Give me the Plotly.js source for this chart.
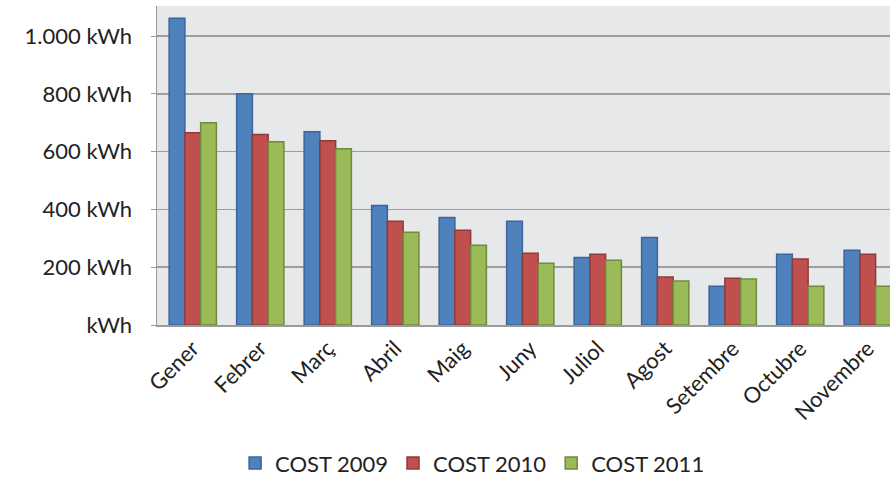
<!DOCTYPE html>
<html>
<head>
<meta charset="utf-8">
<script src="https://cdn.plot.ly/plotly-3.0.1.min.js"></script>
<style>html,body{margin:0;padding:0;background:#fff;}#chart{width:890px;height:480px;}</style>
</head>
<body>
<div id="chart"></div>
<script>
const months = ["Gener","Febrer","Març","Abril","Maig","Juny","Juliol","Agost","Setembre","Octubre","Novembre"];
const cost2009 = [1062, 800, 669, 414, 372, 359, 234, 303, 134, 245, 259];
const cost2010 = [665, 659, 638, 359, 328, 248, 245, 166, 162, 228, 245];
const cost2011 = [700, 634, 610, 321, 276, 214, 224, 152, 159, 134, 134];
const yTickVals = [0, 200, 400, 600, 800, 1000];
const yTickText = ["kWh", "200 kWh", "400 kWh", "600 kWh", "800 kWh", "1.000 kWh"];

const font = "Lato, 'Open Sans', sans-serif";
function bar(name, y, fill, line) {
  return {type: "bar", name: name, x: months, y: y,
    marker: {color: fill, line: {color: line, width: 1.5}}};
}
const data = [
  bar("COST 2009", cost2009, "#4F81BD", "#3A659A"),
  bar("COST 2010", cost2010, "#C0504D", "#8E3B39"),
  bar("COST 2011", cost2011, "#9BBB59", "#708A3F")
];
const layout = {
  width: 890, height: 480,
  margin: {l: 157, r: 0, t: 6, b: 155},
  paper_bgcolor: "#ffffff",
  plot_bgcolor: "#E7E8EA",
  font: {family: font, size: 22, color: "#222"},
  barmode: "group",
  bargap: 0.3,
  bargroupgap: 0,
  showlegend: true,
  legend: {orientation: "h", xref: "container", yref: "container",
    x: 0.531, xanchor: "center", y: 0.035, yanchor: "middle",
    font: {family: font, size: 22, color: "#222"}, itemwidth: 30, traceorder: "normal"},
  xaxis: {
    type: "category", range: [-0.53, 10.33], automargin: false,
    tickangle: -45, showgrid: false, ticks: "",
    showline: true, linecolor: "#9A9A9A", linewidth: 2,
    tickfont: {family: font, size: 22, color: "#222"}
  },
  yaxis: {
    range: [0, 1104], tickvals: yTickVals, ticktext: yTickText, automargin: false,
    showgrid: true, gridcolor: "#9E9E9E", gridwidth: 1.5,
    showline: true, linecolor: "#9A9A9A", linewidth: 1.5,
    ticks: "outside", ticklen: 5, tickcolor: "#9A9A9A",
    ticklabelstandoff: 14, zeroline: false,
    tickfont: {family: font, size: 22, color: "#222"}
  }
};
Plotly.newPlot("chart", data, layout, {displayModeBar: false, staticPlot: true});
</script>
</body>
</html>
